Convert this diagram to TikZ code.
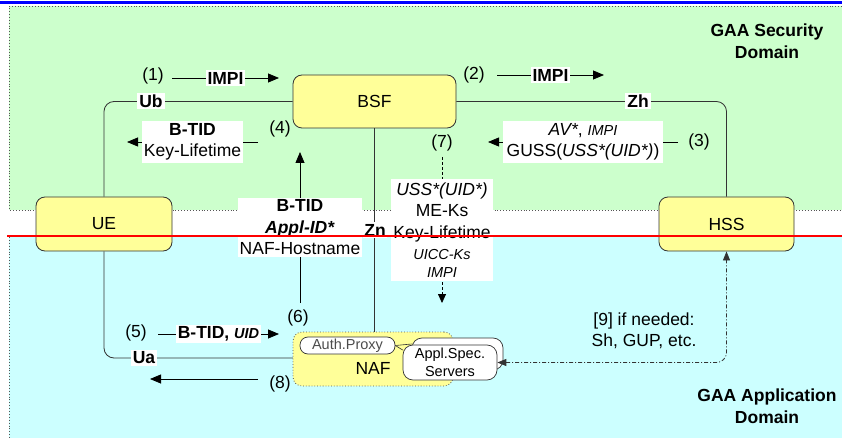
\documentclass[tikz,border=0pt]{standalone}
\usepackage{fontspec}
\setmainfont{Liberation Sans}
\usetikzlibrary{arrows.meta}
\definecolor{secgreen}{HTML}{CCFFCC}
\definecolor{appcyan}{HTML}{CCFFFF}
\definecolor{boxyellow}{HTML}{FFFF99}
\definecolor{linegray}{HTML}{333333}
\definecolor{bordergray}{HTML}{555555}
\newcommand\msmall{\fontsize{14.5}{17}\selectfont}
\begin{document}
\begin{tikzpicture}[x=1pt,y=-1pt,
  font=\fontsize{17.5}{21.5}\selectfont,
  >={Triangle[length=11pt,width=9pt]},
  entity/.style={draw=linegray, line width=0.8pt, fill=boxyellow, rounded corners=9pt},
  nafbox/.style={draw=bordergray, dotted, line width=0.8pt, fill=boxyellow, rounded corners=9pt},
  proxybox/.style={draw=linegray, line width=0.7pt, fill=white, rounded corners=8pt, font=\msmall, text=black!70, inner sep=0pt},
  appbox/.style={draw=linegray, line width=0.7pt, fill=white, rounded corners=10pt, font=\msmall, align=center, inner sep=0pt},
  conn/.style={draw=linegray, line width=0.8pt},
  msg/.style={draw=black, line width=0.8pt, ->},
  lab/.style={fill=white, inner xsep=2pt, inner ysep=2pt, align=center},
  plain/.style={inner sep=0pt}
]
\useasboundingbox (0,0) rectangle (842,438);
% domains
\fill[secgreen] (9,6) rectangle (842,210);
\draw[bordergray, dotted, line width=0.9pt] (842,6) -- (9,6) -- (9,210) -- (842,210);
\fill[appcyan] (9,237) rectangle (842,438);
\draw[bordergray, dotted, line width=0.9pt] (9,237) -- (9,438);
\draw[blue, line width=3pt] (0,2.5) -- (842,2.5);

\node[font=\fontsize{17.5}{21.5}\selectfont\bfseries, align=center] (secdom) at (767,41) {GAA Security\\Domain};
\node[font=\fontsize{17.5}{21.5}\selectfont\bfseries, align=center] (appdom) at (767,406) {GAA Application\\Domain};

% entities
\node[entity, minimum width=136pt, minimum height=54pt] (ue) at (104,224) {UE};
\node[entity, minimum width=135pt, minimum height=54pt] (hss) at (726.5,224) {HSS};
\node[entity, minimum width=163pt, minimum height=53pt] (bsf) at (374.5,101.5) {BSF};

% interfaces
\draw[conn, rounded corners=10pt] (bsf.west) -| (ue.north);
\draw[conn, rounded corners=10pt] (bsf.east) -| (hss.north);
\draw[conn, rounded corners=10pt] (ue.south) |- (293,358);
\draw[conn] (bsf.south) -- (374.5,332);

% NAF
\node[nafbox, minimum width=160pt, minimum height=54pt] (naf) at (373,359) {};
\node[plain] (naflab) at (373,368) {NAF};
\node[proxybox, minimum width=95pt, minimum height=17pt] (proxy) at (347.5,345.5) {Auth.Proxy};
\node[appbox, minimum width=91pt, minimum height=32pt] (applback) at (457.5,354) {};
\node[appbox, minimum width=94pt, minimum height=35pt] (appl) at (450,362.5) {Appl.Spec.\\[1pt]Servers};
\draw[conn, line width=0.6pt] (proxy.east) -- (appl.west |- 0,350);
\draw[conn, line width=0.6pt] (proxy.east) -- (applback.north west |- 0,344);

% interface labels
\node[lab, font=\fontsize{17.5}{21.5}\selectfont\bfseries] (ub) at (151,101) {Ub};
\node[lab, font=\fontsize{17.5}{21.5}\selectfont\bfseries] (zh) at (638,101) {Zh};
\node[lab, font=\fontsize{17.5}{21.5}\selectfont\bfseries] (ua) at (144,358) {Ua};

% [9]
\draw[draw=linegray, line width=0.8pt, dash pattern=on 4pt off 2pt on 1pt off 2pt, {Triangle[length=9pt,width=7pt]}-{Triangle[length=9pt,width=7pt]}, rounded corners=10pt] (appl.east) -| (hss.south);
\node[plain, align=center] (n9) at (644,331) {[9] if needed:\\Sh, GUP, etc.};

% messages
\node[plain] (n1) at (153,76) {(1)};
\coordinate (a1s) at (172,78); \coordinate (a1e) at (279,78);
\draw[msg] (a1s) -- (a1e) node[midway, lab, font=\fontsize{17.5}{21.5}\selectfont\bfseries] (l1) {IMPI};

\node[plain] (n2) at (474,75) {(2)};
\coordinate (a2s) at (497,75); \coordinate (a2e) at (604,75);
\draw[msg] (a2s) -- (a2e) node[midway, lab, font=\fontsize{17.5}{21.5}\selectfont\bfseries] (l2) {IMPI};

\node[plain] (n4) at (280,129) {(4)};
\coordinate (a4s) at (258,142); \coordinate (a4e) at (127,142);
\draw[msg] (a4s) -- (a4e) node[midway, lab] (l4) {\textbf{B-TID}\\Key-Lifetime};

\node[plain] (n3) at (699,142) {(3)};
\coordinate (a3s) at (678,142); \coordinate (a3e) at (488,142);
\draw[msg] (a3s) -- (a3e) node[midway, lab, inner xsep=4pt] (l3) {\textit{AV*}, {\msmall\itshape IMPI}\\GUSS(\textit{USS*(UID*)})};

\node[plain] (n6) at (298,318) {(6)};
\coordinate (a6s) at (300,303); \coordinate (a6e) at (300,152);
\draw[msg] (a6s) -- (a6e) node[midway, lab] (l6) {\textbf{B-TID}\\\textbf{\textit{Appl-ID*}}\\NAF-Hostname};

\node[plain] (n5) at (136,333) {(5)};
\coordinate (a5s) at (158,334); \coordinate (a5e) at (279,334);
\draw[msg] (a5s) -- (a5e) node[midway, lab] (l5) {\textbf{B-TID, {\msmall\itshape UID}}};

\node[plain] (n8) at (280,384) {(8)};
\coordinate (a8s) at (258,379); \coordinate (a8e) at (150,379);
\draw[msg] (a8s) -- (a8e);

\node[plain] (n7) at (442,143) {(7)};
\coordinate (a7s) at (442,157); \coordinate (a7e) at (442,303);
\draw[msg, dash pattern=on 3pt off 2pt, {-Triangle[length=9pt,width=8pt]}] (a7s) -- (a7e) node[midway, lab, inner ysep=4pt] (l7) {\textit{USS*(UID*)}\\ME-Ks\\Key-Lifetime\\{\msmall\itshape UICC-Ks}\\[-4pt]{\msmall\itshape IMPI}};

\node[lab, inner xsep=1pt, font=\fontsize{17.5}{21.5}\selectfont\bfseries] (zn) at (375,230) {Zn};

% red separator
\draw[red, line width=2pt] (7,236) -- (842,236);
\end{tikzpicture}
\end{document}
